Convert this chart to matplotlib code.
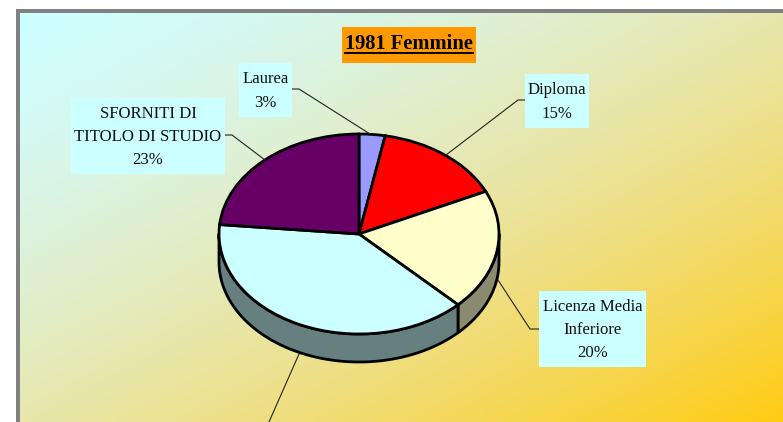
import matplotlib
matplotlib.use('Agg')
import matplotlib.pyplot as plt
from matplotlib.patches import Rectangle
import numpy as np

plt.rcParams['font.family'] = ['Liberation Serif', 'DejaVu Serif']

W, H = 783, 422

# clockwise from 12 o'clock
names = ['Laurea', 'Diploma', 'Licenza Media\nInferiore', '', 'SFORNITI DI\nTITOLO DI STUDIO']
values = [3, 15, 19.5, 39, 23.5]  # slice sizes as measured on the picture
percents = [3, 15, 20, 39, 23]  # as printed on the labels
colors = ['#9999FF', '#FF0000', '#FFFFCC', '#CCFFFF', '#660066']

CX, CY, RX, RY, DEPTH = 359, 234, 140, 100, 28

fig = plt.figure(figsize=(W / 100, H / 100), dpi=100, facecolor='white')

# pixel overlay for background and frame
ax = fig.add_axes([0, 0, 1, 1], zorder=1)

# background gradient
xx, yy = np.meshgrid(np.linspace(0, 1, 200), np.linspace(0, 1, 120))
t = (xx + yy) / 2
r = 204 + 51 * t ** 0.9
g = 255 - 51 * t ** 1.1
b = 255 - 235 * t ** 1.5
grad = np.dstack([r, g, b]) / 255
ax.imshow(grad, extent=[20, W, H, 13], aspect='auto', zorder=0)
ax.set_xlim(0, W)
ax.set_ylim(H, 0)
ax.axis('off')
ax.add_patch(Rectangle((16, 9), W, 4, fc='#808080', ec='none', zorder=1))
ax.add_patch(Rectangle((16, 9), 4, H, fc='#808080', ec='none', zorder=1))

# pie axes: 1 unit = RX px across, RY px down
pax = fig.add_axes([0, 0, 1, 1], zorder=2)
pax.patch.set_alpha(0)

edges = np.cumsum([0] + values) / sum(values) * 2 * np.pi


def wall(a0, a1, color):
    a = np.linspace(a0, a1, 80)
    x = np.sin(a)
    y = np.cos(a)
    d = DEPTH / RY
    px = np.r_[x, x[::-1]]
    py = np.r_[y, y[::-1] - d]
    pax.fill(px, py, fc=color, ec='black', lw=2.0, joinstyle='round')


wall(np.pi / 2, edges[3], '#8A8A6E')
wall(edges[3], 3 * np.pi / 2, '#668080')

pax.pie(values, colors=colors, startangle=90, counterclock=False, radius=1,
        wedgeprops={'edgecolor': 'black', 'linewidth': 2.0})
pax.set_aspect('auto')
pax.set_xlim(-CX / RX, (W - CX) / RX)
pax.set_ylim((CY - H) / RY, CY / RY)
pax.axis('off')

# labels on top of pie
lax = fig.add_axes([0, 0, 1, 1], zorder=3)
lax.set_xlim(0, W)
lax.set_ylim(H, 0)
lax.axis('off')


def label(box, text, pct, leader):
    x0, y0, x1, y1 = box
    lax.plot(*zip(*leader), color='#222222', lw=0.8, zorder=1)
    lax.add_patch(Rectangle((x0, y0), x1 - x0, y1 - y0, fc='#CCFFFF', ec='none', zorder=2))
    lax.text((x0 + x1) / 2, (y0 + y1) / 2 + 1, f'{text}\n{pct}%', ha='center', va='center',
             fontsize=12.1, color='#111111', linespacing=1.6, zorder=3)


label((239, 63, 292, 117), names[0], percents[0], [(292, 89), (299, 89), (370, 134)])
label((525, 74, 589, 128), names[1], percents[1], [(525, 100), (518, 100), (446, 155)])
label((539, 291, 646, 367), names[2], percents[2], [(539, 329), (530, 329), (498, 280)])
label((71, 98, 225, 174), names[4], percents[4], [(225, 135), (232, 135), (265, 160)])
lax.plot([299, 269], [354, H], color='#222222', lw=0.8)

# title
lax.add_patch(Rectangle((342, 27), 134, 36, fc='#FF9900', ec='none'))
lax.text(409, 44, '1981 Femmine', ha='center', va='center', fontsize=14.8,
         fontweight='bold', color='black')
lax.plot([345, 473], [53, 53], color='black', lw=1.4)

fig.savefig('out.png', dpi=100)
